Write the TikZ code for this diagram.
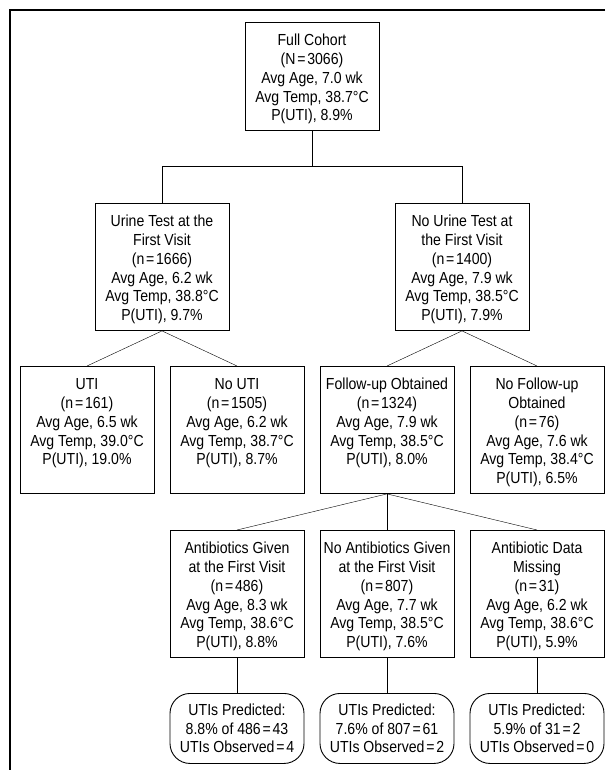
\documentclass[tikz,border=0pt]{standalone}
\usepackage{fontspec}
\setmainfont[FakeStretch=0.88]{Liberation Sans}
\usepackage{tikz}
\pgfdeclarelayer{bg}
\pgfsetlayers{bg,main}
\newcommand{\cell}[2]{\parbox[c][#1][t]{134pt}{\vspace*{10.4pt}\centering\strut#2}}
\newcommand{\eqs}{\kern1.8pt=\kern1.8pt}
\tikzset{
    every node/.style={font=\fontsize{16}{18.7}\selectfont},
    box/.style={draw, rectangle, line width=0.9pt, inner sep=0pt, anchor=north},
    pred/.style={draw, rectangle, rounded corners=20pt, line width=0.9pt, inner sep=0pt,
        minimum width=134pt, minimum height=70pt, align=center, anchor=north}
}

\begin{document}
\begin{tikzpicture}[x=1pt, y=-1pt, line width=0.9pt]
        \useasboundingbox (0,0) rectangle (605,770);
        \draw [line width=1.6pt] (605,10) -- (10,10) -- (10,770);
        \node (v0) [box] at (312, 22) {\cell{108pt}{Full Cohort\\(N\eqs 3066)\\Avg Age, 7.0 wk\\Avg Temp, 38.7°C\\P(UTI), 8.9\%}};
        \node (v1) [box] at (162, 203) {\cell{127pt}{Urine Test at the\\First Visit\\(n\eqs 1666)\\Avg Age, 6.2 wk\\Avg Temp, 38.8°C\\P(UTI), 9.7\%}};
        \node (v2) [box] at (462, 203) {\cell{127pt}{No Urine Test at\\the First Visit\\(n\eqs 1400)\\Avg Age, 7.9 wk\\Avg Temp, 38.5°C\\P(UTI), 7.9\%}};
        \node (v3) [box] at (87, 366) {\cell{127pt}{UTI\\(n\eqs 161)\\Avg Age, 6.5 wk\\Avg Temp, 39.0°C\\P(UTI), 19.0\%}};
        \node (v4) [box] at (237, 366) {\cell{127pt}{No UTI\\(n\eqs 1505)\\Avg Age, 6.2 wk\\Avg Temp, 38.7°C\\P(UTI), 8.7\%}};
        \node (v5) [box] at (387, 366) {\cell{127pt}{Follow-up Obtained\\(n\eqs 1324)\\Avg Age, 7.9 wk\\Avg Temp, 38.5°C\\P(UTI), 8.0\%}};
        \node (v6) [box] at (537, 366) {\cell{127pt}{No Follow-up\\Obtained\\(n\eqs 76)\\Avg Age, 7.6 wk\\Avg Temp, 38.4°C\\P(UTI), 6.5\%}};
        \node (v7) [box] at (237, 530) {\cell{127pt}{Antibiotics Given\\at the First Visit\\(n\eqs 486)\\Avg Age, 8.3 wk\\Avg Temp, 38.6°C\\P(UTI), 8.8\%}};
        \node (v8) [box] at (387, 530) {\cell{127pt}{No Antibiotics Given\\at the First Visit\\(n\eqs 807)\\Avg Age, 7.7 wk\\Avg Temp, 38.5°C\\P(UTI), 7.6\%}};
        \node (v9) [box] at (537, 530) {\cell{127pt}{Antibiotic Data\\Missing\\(n\eqs 31)\\Avg Age, 6.2 wk\\Avg Temp, 38.6°C\\P(UTI), 5.9\%}};
        \node (v10) [pred] at (237, 693) {UTIs Predicted:\\8.8\% of 486\eqs 43\\UTIs Observed\eqs 4};
        \node (v11) [pred] at (387, 693) {UTIs Predicted:\\7.6\% of 807\eqs 61\\UTIs Observed\eqs 2};
        \node (v12) [pred] at (537, 693) {UTIs Predicted:\\5.9\% of 31\eqs 2\\UTIs Observed\eqs 0};
        \coordinate (s0) at (312, 166);
        \begin{pgfonlayer}{bg}
                \draw (v0) -- (s0);
                \draw (s0) -| (v1);
                \draw (s0) -| (v2);
                \draw (v1.south) edge (v3.north);
                \draw (v1.south) edge (v4.north);
                \draw (v2.south) edge (v5.north);
                \draw (v2.south) edge (v6.north);
                \draw (v5.south) edge (v7.north);
                \draw (v5.south) edge (v8.north);
                \draw (v5.south) edge (v9.north);
                \draw (v7) edge (v10);
                \draw (v8) edge (v11);
                \draw (v9) edge (v12);
        \end{pgfonlayer}
\end{tikzpicture}
\end{document}
